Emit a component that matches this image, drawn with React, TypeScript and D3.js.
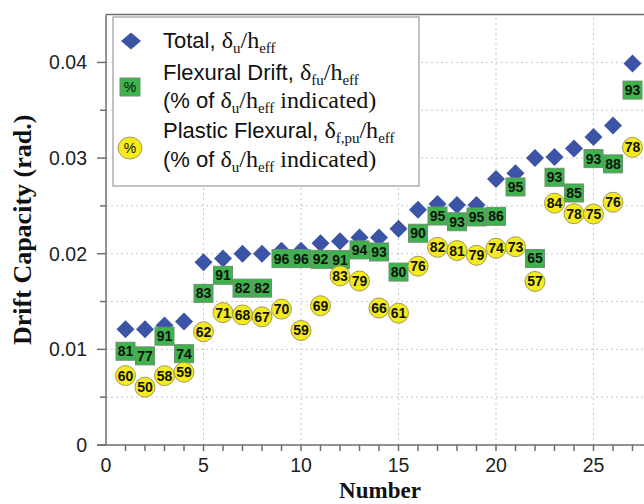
import React from "react";
import * as d3 from "d3";

// Specimen numbers along the x axis
const specimen = [1, 2, 3, 4, 5, 6, 7, 8, 9, 10, 11, 12, 13, 14, 15, 16, 17, 18, 19, 20, 21, 22, 23, 24, 25, 26, 27];

// Total drift capacity, delta_u / h_eff (rad.)
const totalDrift = [
  0.0121, 0.0121, 0.0125, 0.0129, 0.0191, 0.0195, 0.02, 0.02, 0.0203, 0.0203,
  0.0211, 0.0213, 0.0217, 0.0217, 0.0226, 0.0246, 0.0252, 0.0251, 0.0251, 0.0278,
  0.0284, 0.03, 0.0301, 0.031, 0.0322, 0.0334, 0.0399,
];

// Flexural drift as % of total drift
const flexuralPct = [81, 77, 91, 74, 83, 91, 82, 82, 96, 96, 92, 91, 94, 93, 80, 90, 95, 93, 95, 86, 95, 65, 93, 85, 93, 88, 93];

// Plastic flexural drift as % of total drift
const plasticPct = [60, 50, 58, 59, 62, 71, 68, 67, 70, 59, 69, 83, 79, 66, 61, 76, 82, 81, 79, 74, 73, 57, 84, 78, 75, 76, 78];

const xTickLabels = [0, 5, 10, 15, 20, 25];
const xGridValues = [5, 10, 15, 20, 25];
const yTickValues = [0, 0.01, 0.02, 0.03, 0.04];
const yTickLabels = ["0", "0.01", "0.02", "0.03", "0.04"];

const sans = "'Liberation Sans', Arial, Helvetica, sans-serif";
const serif = "'Liberation Serif', 'Times New Roman', Times, serif";

const BLUE = "#3b54a6";
const GREEN = "#3db34b";
const GREEN_EDGE = "#6f8f72";
const YELLOW = "#f4eb1c";
const YELLOW_EDGE = "#a29a5c";
const AXIS = "#6e6e6e";
const GRID = "#c9c9c9";

function diamondPath(cx: number, cy: number, hw: number, hh: number) {
  return `M${cx},${cy - hh}L${cx + hw},${cy}L${cx},${cy + hh}L${cx - hw},${cy}Z`;
}

// δ_sub / h_eff written with serif math glyphs
function DriftRatio({ sub }: { sub: string }) {
  return (
    <>
      <tspan fontFamily={serif} fontSize={24}>δ</tspan>
      <tspan fontFamily={serif} fontSize={15} dy={5}>{sub}</tspan>
      <tspan fontFamily={serif} fontSize={24} dy={-5}>/h</tspan>
      <tspan fontFamily={serif} fontSize={15} dy={5}>eff</tspan>
    </>
  );
}

export default function App() {
  const x = d3.scaleLinear().domain([0, 28]).range([106, 652]);
  const y = d3.scaleLinear().domain([0, 0.045]).range([445, 14.6]);

  const yMinor = d3.range(0, 9).map((i) => i * 0.005);
  const yGrid = yMinor.filter((v) => v > 0);
  const xMinor = x.ticks(28).filter((v) => v > 0);

  const rows = specimen.map((n, i) => {
    const total = totalDrift[i];
    return {
      n,
      total,
      flex: (total * flexuralPct[i]) / 100,
      flexPct: flexuralPct[i],
      plastic: (total * plasticPct[i]) / 100,
      plasticPct: plasticPct[i],
    };
  });

  const [x0, x1] = x.range();
  const [y0, y1] = y.range();

  return (
    <svg
      width={644}
      height={504}
      style={{ position: "fixed", left: 0, top: 0, background: "#fff" }}
    >
      {/* dotted grid */}
      <g stroke={GRID} strokeWidth={1} strokeDasharray="2,3">
        {yGrid.map((v) => (
          <line key={`gy${v}`} x1={x0} x2={x1} y1={y(v)} y2={y(v)} />
        ))}
        {xGridValues.map((v) => (
          <line key={`gx${v}`} x1={x(v)} x2={x(v)} y1={y0} y2={y1} />
        ))}
      </g>

      {/* frame and axes */}
      <g stroke={AXIS} strokeWidth={1.5} fill="none">
        <line x1={97} x2={x1} y1={y0} y2={y0} />
        <line x1={x0} x2={x0} y1={y0} y2={y1} />
        <line x1={x0} x2={x1} y1={y1} y2={y1} />
        {xMinor.map((v) => (
          <line key={`tx${v}`} x1={x(v)} x2={x(v)} y1={y0} y2={y0 + 6} />
        ))}
        {yMinor.map((v, i) => (
          <line
            key={`ty${v}`}
            x1={x0 - (i % 2 === 0 ? 9 : 6)}
            x2={x0}
            y1={y(v)}
            y2={y(v)}
          />
        ))}
      </g>

      {/* tick labels */}
      <g fontFamily={sans} fontSize={19.5} fill="#222">
        {xTickLabels.map((v) => (
          <text key={`lx${v}`} x={x(v)} y={472} textAnchor="middle">
            {v}
          </text>
        ))}
        {yTickValues.map((v, i) => (
          <text key={`ly${v}`} x={87} y={y(v) + 7} textAnchor="end">
            {yTickLabels[i]}
          </text>
        ))}
      </g>

      {/* axis titles */}
      <text
        x={380}
        y={498}
        textAnchor="middle"
        fontFamily={serif}
        fontWeight="bold"
        fontSize={23}
        fill="#111"
      >
        Number
      </text>
      <text
        transform={`translate(31,${(y0 + y1) / 2}) rotate(-90)`}
        textAnchor="middle"
        fontFamily={serif}
        fontWeight="bold"
        fontSize={26}
        fill="#111"
      >
        Drift Capacity (rad.)
      </text>

      {/* total drift */}
      <g fill={BLUE}>
        {rows.map((d) => (
          <path key={`t${d.n}`} d={diamondPath(x(d.n), y(d.total), 9, 9)} />
        ))}
      </g>

      {/* flexural drift */}
      <g>
        {rows.map((d) => (
          <g key={`f${d.n}`} transform={`translate(${x(d.n)},${y(d.flex)})`}>
            <rect x={-9.5} y={-9} width={19} height={18} fill={GREEN} stroke={GREEN_EDGE} strokeWidth={1} />
            <text
              y={5}
              textAnchor="middle"
              fontFamily={sans}
              fontWeight="bold"
              fontSize={14}
              fill="#111"
            >
              {d.flexPct}
            </text>
          </g>
        ))}
      </g>

      {/* plastic flexural drift */}
      <g>
        {rows.map((d) => (
          <g key={`p${d.n}`} transform={`translate(${x(d.n)},${y(d.plastic)})`}>
            <circle r={10} fill={YELLOW} stroke={YELLOW_EDGE} strokeWidth={1} />
            <text
              y={5}
              textAnchor="middle"
              fontFamily={sans}
              fontWeight="bold"
              fontSize={14}
              fill="#111"
            >
              {d.plasticPct}
            </text>
          </g>
        ))}
      </g>

      {/* legend */}
      <g>
        <rect x={113} y={17} width={306} height={169} fill="#fff" stroke="#9a9a9a" strokeWidth={1.2} />
        <path d={diamondPath(131, 41, 10, 8.5)} fill={BLUE} />
        <rect x={120} y={78} width={20} height={18} fill={GREEN} stroke={GREEN_EDGE} strokeWidth={1} />
        <text x={130} y={92} textAnchor="middle" fontFamily={sans} fontSize={14} fill="#111">%</text>
        <ellipse cx={130} cy={148} rx={12} ry={11} fill={YELLOW} stroke={YELLOW_EDGE} strokeWidth={1} />
        <text x={130} y={153} textAnchor="middle" fontFamily={sans} fontSize={14} fill="#111">%</text>

        <g fontFamily={sans} fontSize={22} fill="#111">
          <text x={163} y={48}>
            Total, <DriftRatio sub="u" />
          </text>
          <text x={163} y={80}>
            Flexural Drift, <DriftRatio sub="fu" />
          </text>
          <text x={163} y={108}>
            (% of <DriftRatio sub="u" />
            <tspan fontFamily={serif} fontSize={24} dy={-5}> indicated)</tspan>
          </text>
          <text x={163} y={138}>
            Plastic Flexural, <DriftRatio sub="f,pu" />
          </text>
          <text x={163} y={167}>
            (% of <DriftRatio sub="u" />
            <tspan fontFamily={serif} fontSize={24} dy={-5}> indicated)</tspan>
          </text>
        </g>
      </g>
    </svg>
  );
}
